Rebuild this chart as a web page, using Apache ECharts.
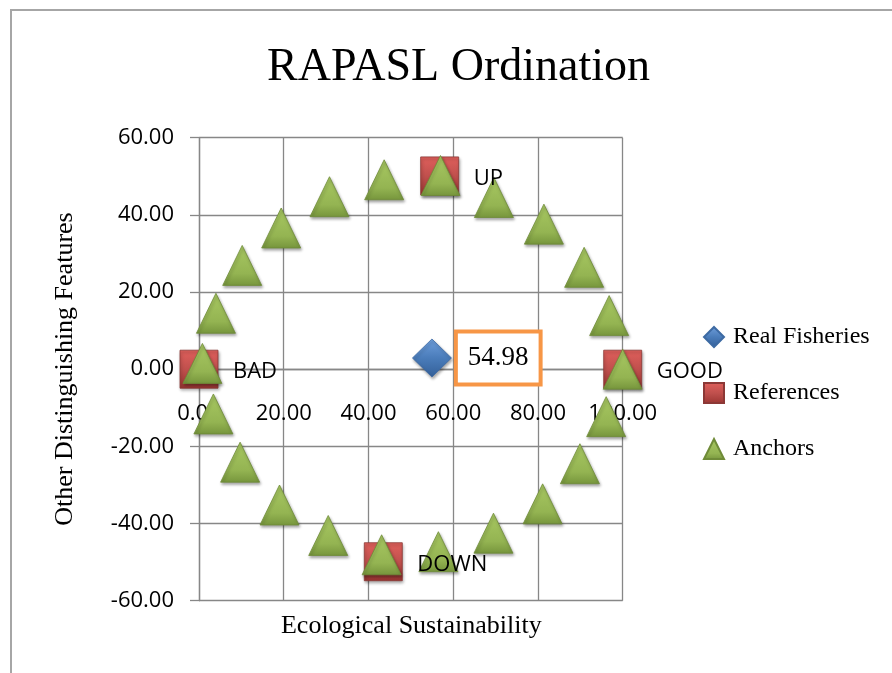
<!DOCTYPE html>
<html><head><meta charset="utf-8">
<script src="https://cdn.jsdelivr.net/npm/echarts@6/dist/echarts.min.js"></script>
<style>html,body{margin:0;padding:0;background:#fff}#c{width:892px;height:673px}</style>
</head><body><div id="c"></div>
<script>
// ---- data ----
const realName = 'Real Fisheries';
const realX = [54.98];
const realY = [2.9];

const refNames = ['BAD', 'UP', 'GOOD', 'DOWN'];
const refX = [0, 56.8, 100, 43.5];
const refY = [0, 50.1, 0, -49.9];

const anchorX = [0.8, 4.0, 10.2, 19.4, 30.8, 43.7, 57.0, 69.6, 81.4, 90.9, 96.8, 100, 96.1, 89.9, 81.1, 69.5, 56.5, 43.1, 30.5, 19.0, 9.7, 3.4];
const anchorY = [1.5, 14.5, 26.9, 36.6, 44.7, 49.1, 50.2, 44.5, 37.6, 26.4, 13.9, 0, -12.3, -24.5, -34.9, -42.5, -47.3, -48.1, -43.1, -35.2, -24.1, -11.6];

const xMin = 0, xMax = 100, xStep = 20;
const yMin = -60, yMax = 60, yStep = 20;
// ---------------

const pts = (xs, ys) => xs.map((x, i) => [x, ys[i]]);
const G = echarts.graphic.LinearGradient;
const shadow = { opacity: 1, shadowBlur: 3, shadowOffsetX: 1, shadowOffsetY: 2, shadowColor: 'rgba(0,0,0,0.35)' };
const gridColor = '#878787';
const gridTop = 137.7, gridBottomPx = 600.7;
// pixel distance from the bottom edge of the grid to the y = 0 line
const zeroShift = (gridBottomPx - gridTop) * (0 - yMin) / (yMax - yMin);
const chart = echarts.init(document.getElementById('c'), null, { renderer: 'canvas' });

chart.setOption({
  animation: false,
  backgroundColor: '#fff',
  grid: { left: 199, right: 269.3, top: gridTop, bottom: 673 - gridBottomPx, containLabel: false },
  xAxis: {
    type: 'value', min: xMin, max: xMax, interval: xStep,
    position: 'bottom', offset: -zeroShift,
    axisLine: { show: true, onZero: false, lineStyle: { color: gridColor, width: 1.3 } },
    axisTick: { show: false },
    splitLine: { show: true, lineStyle: { color: gridColor, width: 1.3 } },
    axisLabel: {
      showMinLabel: true, showMaxLabel: true, margin: 34,
      fontFamily: 'Open Sans', fontSize: 22, lineHeight: 22, color: '#000',
      formatter: v => v.toFixed(2)
    }
  },
  yAxis: {
    type: 'value', min: yMin, max: yMax, interval: yStep,
    axisLine: { show: true, onZero: false, lineStyle: { color: gridColor, width: 1.3 } },
    axisTick: { show: true, length: 9, inside: false, lineStyle: { color: gridColor, width: 1.3 } },
    splitLine: { show: true, lineStyle: { color: gridColor, width: 1.3 } },
    axisLabel: {
      showMinLabel: true, showMaxLabel: true, margin: 25,
      fontFamily: 'Open Sans', fontSize: 22, color: '#000',
      formatter: v => v.toFixed(2)
    }
  },
  legend: {
    orient: 'vertical', left: 703, top: 324, padding: 0,
    itemWidth: 20, itemHeight: 20, itemGap: 30,
    data: [realName, 'References', 'Anchors'],
    textStyle: { fontFamily: 'Liberation Serif', fontSize: 24, lineHeight: 26, color: '#000', padding: [0, 0, 0, 4] }
  },
  graphic: [
    { type: 'rect', silent: true, z: -10, shape: { x: 11, y: 10, width: 1000, height: 800 },
      style: { fill: 'none', stroke: '#a6a6a6', lineWidth: 2 } },
    { type: 'text', silent: true, x: 458.5, y: 68,
      style: { text: 'RAPASL Ordination', fontFamily: 'Liberation Serif', fontSize: 46, fill: '#000', align: 'center', verticalAlign: 'middle' } },
    { type: 'text', silent: true, x: 411.3, y: 626,
      style: { text: 'Ecological Sustainability', fontFamily: 'Liberation Serif', fontSize: 26, fill: '#000', align: 'center', verticalAlign: 'middle' } },
    { type: 'text', silent: true, x: 65, y: 369, rotation: Math.PI / 2,
      style: { text: 'Other Distinguishing Features', fontFamily: 'Liberation Serif', fontSize: 26, fill: '#000', align: 'center', verticalAlign: 'middle' } }
  ],
  series: [
    {
      name: realName, type: 'scatter', symbol: 'diamond', symbolSize: [39, 38], z: 4,
      data: pts(realX, realY),
      itemStyle: Object.assign({
        color: new G(0, 0, 0, 1, [{ offset: 0, color: '#6f9fdc' }, { offset: 0.5, color: '#4a7cba' }, { offset: 1, color: '#335f98' }]),
        borderColor: '#3d6aa3', borderWidth: 0.8
      }, shadow),
      label: {
        show: true, position: 'right', distance: 6,
        formatter: p => p.value[0].toFixed(2),
        fontFamily: 'Liberation Serif', fontSize: 27, lineHeight: 27, color: '#000',
        backgroundColor: '#fff', borderColor: '#F79646', borderWidth: 4, padding: [11, 10, 11, 10]
      }
    },
    {
      name: 'References', type: 'scatter', symbol: 'rect', symbolSize: 38, z: 3,
      data: pts(refX, refY),
      itemStyle: Object.assign({
        color: new G(0, 0, 0, 1, [{ offset: 0, color: '#e0605c' }, { offset: 0.5, color: '#c0504d' }, { offset: 1, color: '#9a3532' }]),
        borderColor: '#8c3836', borderWidth: 0.8
      }, shadow)
    },
    {
      name: 'Anchors', type: 'scatter', symbol: 'triangle', symbolSize: [39, 40], z: 5,
      data: pts(anchorX, anchorY),
      itemStyle: Object.assign({
        color: new G(0, 0, 0, 1, [{ offset: 0, color: '#a8c862' }, { offset: 0.7, color: '#94b452' }, { offset: 1, color: '#76953c' }]),
        borderColor: '#6f8b38', borderWidth: 0.8
      }, shadow)
    },
    {
      name: 'refLabels', type: 'scatter', symbolSize: 38, z: 6, silent: true,
      itemStyle: { color: 'rgba(0,0,0,0)', opacity: 1 },
      data: pts(refX, refY),
      label: {
        show: true, position: 'right', distance: 15, offset: [0, 3],
        formatter: p => refNames[p.dataIndex],
        fontFamily: 'Open Sans', fontSize: 22, color: '#000'
      }
    }
  ]
});
</script></body></html>
